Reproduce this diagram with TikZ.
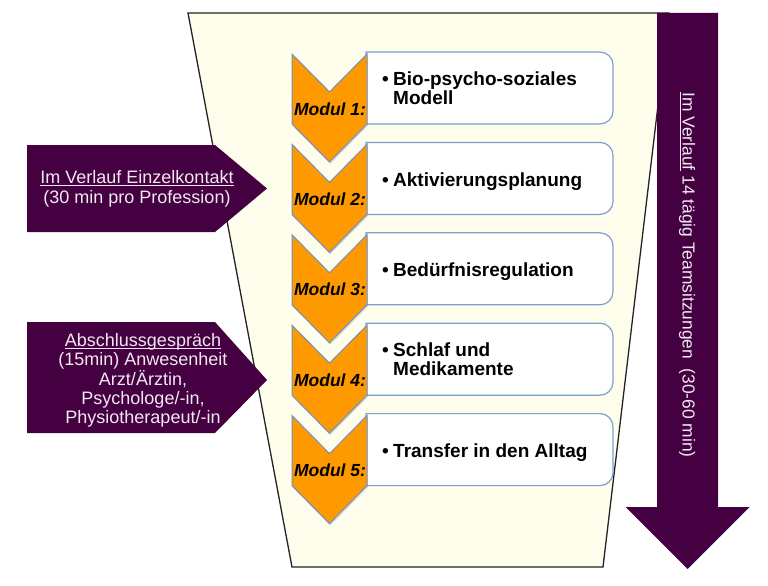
\documentclass[tikz,border=0pt]{standalone}
\usepackage{fontspec}
\setmainfont{Liberation Sans}
\usetikzlibrary{shadows}
\definecolor{purp}{RGB}{68,0,64}
\definecolor{cream}{RGB}{255,253,236}
\definecolor{orng}{RGB}{255,153,0}
\definecolor{chevedge}{RGB}{112,146,196}
\definecolor{boxedge}{RGB}{125,160,210}
\definecolor{ltext}{RGB}{242,232,242}
\definecolor{trapedge}{RGB}{35,35,35}
\tikzset{
  chev/.style={fill=orng, draw=chevedge, line width=1pt, line join=miter,
    drop shadow={shadow xshift=0.8pt, shadow yshift=-2pt, opacity=0.2, fill=black!60}},
  modbox/.style={fill=white, draw=boxedge, line width=1.2pt},
  modlabel/.style={font=\fontsize{17.5}{20}\selectfont\bfseries\itshape, anchor=base, inner sep=0pt},
  boxtext/.style={font=\fontsize{19}{19}\selectfont\bfseries, inner sep=0pt, align=left},
  purparrow/.style={fill=purp, draw=none},
  ptext/.style={text=ltext, align=center, inner sep=0pt},
}
\newcommand{\bul}{\makebox[11pt][l]{\textbullet}}
\newcommand{\ulin}[1]{\setbox0\hbox{#1}\rlap{\rule[-2.3pt]{\wd0}{0.9pt}}{\box0}}
\begin{document}
\begin{tikzpicture}[x=1pt,y=-1pt]
\useasboundingbox (0,0) rectangle (768,586);
% funnel
\draw[fill=cream, draw=trapedge, line width=1.3pt, line join=miter]
  (188,13) -- (669,13) -- (603,567) -- (292,567) -- cycle;
% module boxes
\foreach \i/\t in {1/54,2/144.4,3/234.8,4/325.2,5/415.6}{
  \pgfmathsetmacro{\tp}{\t-2}
  \pgfmathsetmacro{\bt}{\t+70}
  \draw[modbox] (366,\tp) -- (600,\tp) .. controls (607.2,\tp) and (613,\tp+5.8) .. (613,\tp+13)
     -- (613,\bt-13) .. controls (613,\bt-5.8) and (607.2,\bt) .. (600,\bt) -- (366,\bt) -- cycle;
}
% chevrons
\foreach \i/\t in {1/54,2/144.4,3/234.8,4/325.2,5/415.6}{
  \draw[chev] (292,\t) -- (329.5,\t+38) -- (367,\t) -- (367,\t+70) -- (329.5,\t+108) -- (292,\t+70) -- cycle;
  \node[modlabel] (m\i) at (330,\t+61) {Modul \i:};
}
% box texts
\node[boxtext, anchor=west] (t1) at (382,88) {\bul Bio-psycho-soziales\\\hspace*{11pt}Modell};
\node[boxtext, anchor=base west] (t2) at (382,186.4) {\bul Aktivierungsplanung};
\node[boxtext, anchor=base west] (t3) at (382,276.8) {\bul Bedürfnisregulation};
\node[boxtext, anchor=west] (t4) at (382,359.2) {\bul Schlaf und\\\hspace*{11pt}Medikamente};
\node[boxtext, anchor=base west] (t5) at (382,457.6) {\bul Transfer in den Alltag};
% left arrows
\draw[purparrow] (27,145) -- (215,145) -- (267,188.5) -- (215,232) -- (27,232) -- cycle;
\node[ptext, font=\fontsize{18}{20}\selectfont] (l1) at (137,188.6)
  {\ulin{Im Verlauf Einzelkontakt}\\(30 min pro Profession)};
\draw[purparrow] (27,322) -- (215,322) -- (267,380) -- (215,433) -- (27,433) -- cycle;
\node[ptext, font=\fontsize{18}{19.3}\selectfont] (l2) at (143,380.6)
  {\ulin{Abschlussgespräch}\\(15min) Anwesenheit\\Arzt/Ärztin,\\Psychologe/-in,\\Physiotherapeut/-in};
% right arrow
\draw[purparrow] (657,13) -- (718,13) -- (718,507) -- (749.5,507) -- (687.5,569) -- (625.5,507) -- (657,507) -- cycle;
\node[ptext, font=\fontsize{17.4}{20}\selectfont, rotate=-90] (r) at (687,275)
  {\ulin{Im Verlauf} 14 tägig Teamsitzungen\ \ (30-60 min)};
\end{tikzpicture}
\end{document}
